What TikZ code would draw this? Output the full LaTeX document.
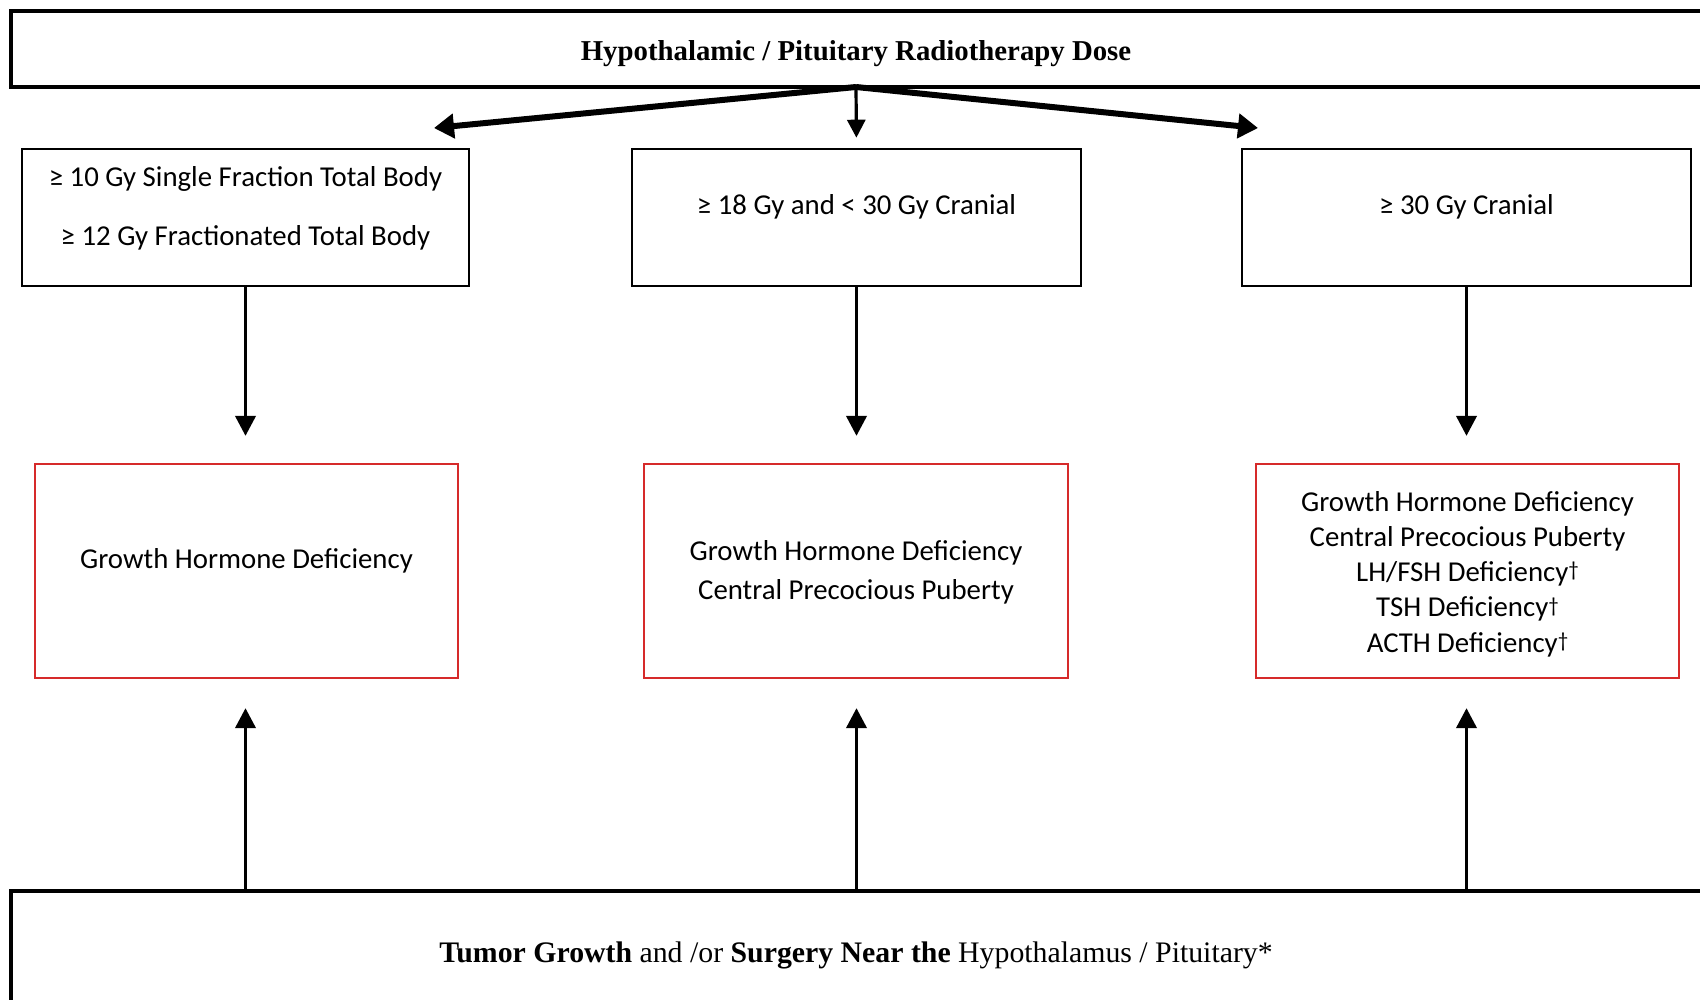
\documentclass[tikz,border=0pt]{standalone}
\usepackage{fontspec}
\setmainfont{Liberation Serif}
\newfontfamily\calib{Carlito}
\usetikzlibrary{arrows.meta}
\definecolor{boxred}{RGB}{214,42,42}
\tikzset{
  x=1pt,y=-1pt,
  blackbox/.style={draw=black,line width=2.6pt,rectangle,inner sep=0pt},
  bigbox/.style={draw=black,line width=3.2pt,rectangle,inner sep=0pt},
  redbox/.style={draw=boxred,line width=2.2pt,rectangle,inner sep=0pt},
  ctext/.style={font=\calib\fontsize{28.8}{33}\selectfont,inner sep=0pt,anchor=base},
  ttext/.style={font=\fontsize{28.8}{32}\selectfont,inner sep=0pt,anchor=base},
  arr/.style={line width=3.8pt,-{Triangle[length=20pt,width=20pt]}},
  thickarr/.style={line width=6pt,-{Triangle[length=20pt,width=24pt]}},
}
\newcommand{\mydag}{\raisebox{0.3ex}{\fontsize{21}{21}\selectfont †}}
\begin{document}
\begin{tikzpicture}
\useasboundingbox (0,0) rectangle (1700,999);
\clip (0,0) rectangle (1700,999);
\fill[white] (0,0) rectangle (1700,999);

% top and bottom wide boxes
\node[bigbox,minimum width=1694pt,minimum height=76pt] (top) at (858,49) {};
\node[ttext] (toptxt) at (856,60) {\textbf{Hypothalamic / Pituitary Radiotherapy Dose}};
\node[bigbox,minimum width=1694pt,minimum height=130pt] (bot) at (858,956) {};
\node[ttext,font=\fontsize{29.8}{32}\selectfont] (bottxt) at (856,962) {\textbf{Tumor Growth} and /or \textbf{Surgery Near the} Hypothalamus / Pituitary*};

% dose boxes
\node[blackbox,minimum width=447pt,minimum height=137pt] (b1) at (245.5,217.5) {};
\node[blackbox,minimum width=449pt,minimum height=137pt] (b2) at (856.5,217.5) {};
\node[blackbox,minimum width=449pt,minimum height=137pt] (b3) at (1466.5,217.5) {};
\node[ctext] (b1a) at (245.5,186) {≥ 10 Gy Single Fraction Total Body};
\node[ctext] (b1b) at (245.5,245) {≥ 12 Gy Fractionated Total Body};
\node[ctext] (b2a) at (856.5,214) {≥ 18 Gy and < 30 Gy Cranial};
\node[ctext] (b3a) at (1466.5,214) {≥ 30 Gy Cranial};

% outcome boxes
\node[redbox,minimum width=423pt,minimum height=214pt] (r1) at (246.5,571) {};
\node[redbox,minimum width=424pt,minimum height=214pt] (r2) at (856,571) {};
\node[redbox,minimum width=423pt,minimum height=214pt] (r3) at (1467.5,571) {};
\node[ctext] (r1a) at (246.5,568) {Growth Hormone Deficiency};
\node[ctext] (r2a) at (856,560) {Growth Hormone Deficiency};
\node[ctext] (r2b) at (856,599) {Central Precocious Puberty};
\node[ctext] (r3a) at (1467.5,511) {Growth Hormone Deficiency};
\node[ctext] (r3b) at (1467.5,546) {Central Precocious Puberty};
\node[ctext] (r3c) at (1467.5,581) {LH/FSH Deficiency\mydag};
\node[ctext] (r3d) at (1467.5,616.5) {TSH Deficiency\mydag};
\node[ctext] (r3e) at (1467.5,652) {ACTH Deficiency\mydag};

% arrows from top
\coordinate (hub) at (856,87);
\coordinate (tipL) at (434,128);
\coordinate (tipR) at (1258,128);
\draw[thickarr] (hub) -- (tipL);
\draw[thickarr] (hub) -- (tipR);
\draw[arr,line width=3.2pt,-{Triangle[length=18pt,width=18pt]},shorten >=10pt] (hub) -- (b2.north);

% arrows down to outcomes
\draw[arr,shorten >=27pt] (b1.south) -- (b1.south |- r1.north);
\draw[arr,shorten >=27pt] (b2.south) -- (b2.south |- r2.north);
\draw[arr,shorten >=27pt] (b3.south) -- (b3.south |- r3.north);

% arrows up from bottom
\draw[arr,shorten >=29pt] (bot.north -| b1.south) -- (r1.south -| b1.south);
\draw[arr,shorten >=29pt] (bot.north -| b2.south) -- (r2.south -| b2.south);
\draw[arr,shorten >=29pt] (bot.north -| b3.south) -- (r3.south -| b3.south);
\end{tikzpicture}
\end{document}
